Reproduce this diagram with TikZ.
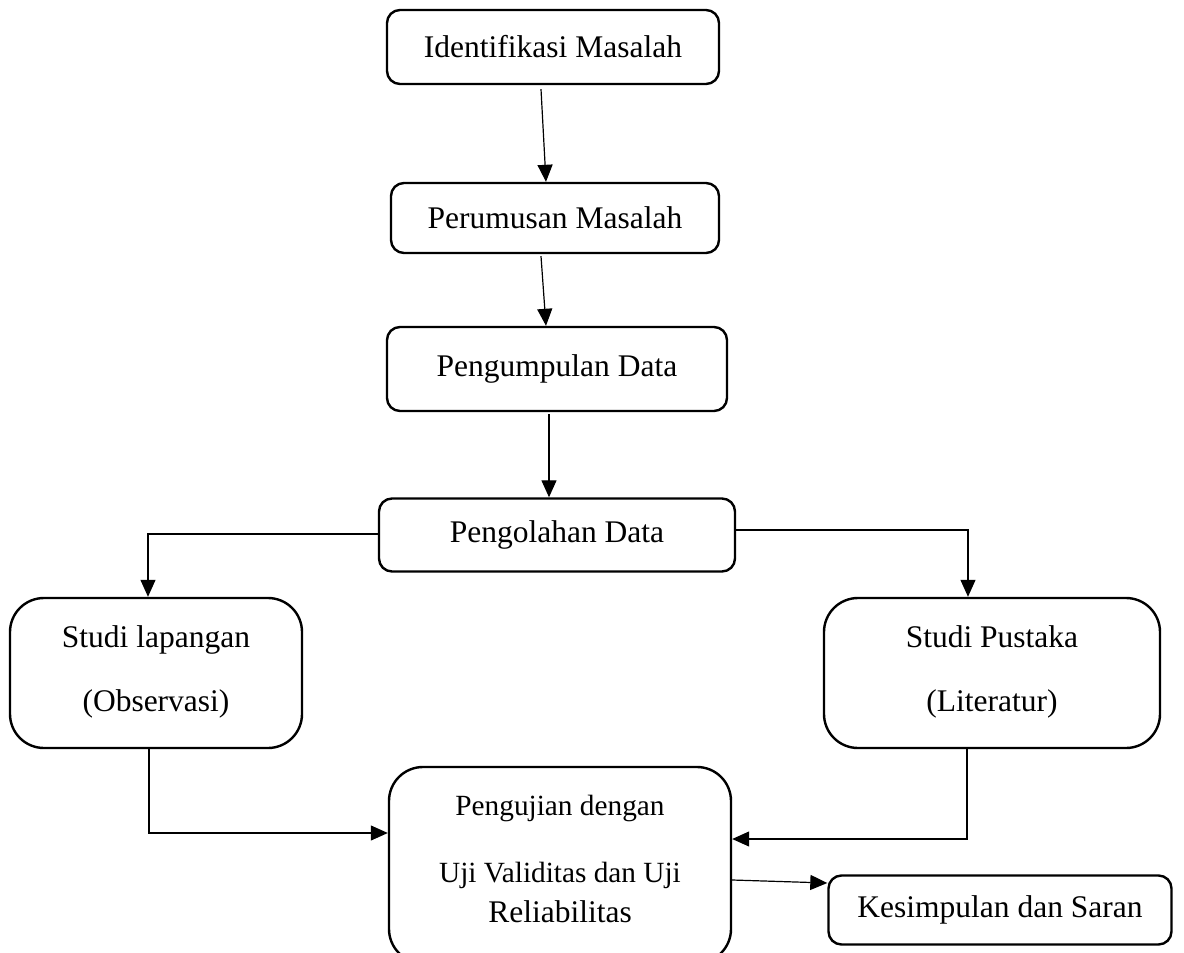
\documentclass[tikz,border=0pt]{standalone}
\usepackage{fontspec}
\setmainfont{Liberation Serif}
\usetikzlibrary{arrows.meta}

\begin{document}
\begin{tikzpicture}[x=1pt,y=-1pt,
  stepbox/.style={draw,line width=2.4pt,rounded corners=13pt,inner sep=0pt,
    font=\fontsize{31.5}{64}\selectfont,align=center},
  bigbox/.style={stepbox,rounded corners=34pt},
  label/.style={anchor=base,inner sep=0pt},
  flow/.style={line width=1.2pt,-{Triangle[length=17pt,width=15pt]}}]

  \useasboundingbox (0,0) rectangle (1184,953);

  % main column
  \node[stepbox,minimum width=332pt,minimum height=74pt] (ident) at (553,47) {\raisebox{-3pt}{Identifikasi Masalah}};
  \node[stepbox,minimum width=328pt,minimum height=70pt] (rumus) at (555,218) {Perumusan Masalah};
  \node[stepbox,minimum width=340pt,minimum height=84pt] (kumpul) at (557,369) {Pengumpulan Data};
  \node[stepbox,minimum width=356pt,minimum height=73pt] (olah) at (557,535) {Pengolahan Data};

  % studies
  \node[bigbox,minimum width=292pt,minimum height=150pt] (lapangan) at (156,673) {};
  \node[label,font=\fontsize{31.5}{38}\selectfont] at (156,647) {Studi lapangan};
  \node[label,font=\fontsize{31.5}{38}\selectfont] at (156,711) {(Observasi)};
  \node[bigbox,minimum width=336pt,minimum height=150pt] (pustaka) at (992,673) {};
  \node[label,font=\fontsize{31.5}{38}\selectfont] at (992,647) {Studi Pustaka};
  \node[label,font=\fontsize{31.5}{38}\selectfont] at (992,711) {(Literatur)};

  % testing and conclusion
  \node[bigbox,minimum width=342pt,minimum height=196pt] (uji) at (560,865) {};
  \node[label,font=\fontsize{29.3}{35}\selectfont] at (560,815) {Pengujian dengan};
  \node[label,font=\fontsize{29.3}{35}\selectfont] at (560,882) {Uji Validitas dan Uji};
  \node[label,font=\fontsize{31.5}{38}\selectfont] at (560,922) {Reliabilitas};
  \node[stepbox,minimum width=343pt,minimum height=69pt] (simpul) at (1000,910) {Kesimpulan dan Saran};

  % connectors
  \draw[flow] ([xshift=-12pt]ident.south) ++(0,4) -- ([xshift=-9pt]rumus.north);
  \draw[flow] ([xshift=-14pt]rumus.south) ++(0,2) -- ([xshift=-11pt]kumpul.north);
  \draw[flow] ([xshift=-8pt]kumpul.south) ++(0,2) -- ([xshift=-8pt]olah.north);
  \draw[flow] (olah.west |- 0,534) -| ([xshift=-8pt]lapangan.north);
  \draw[flow] (olah.east |- 0,530) -| ([xshift=-24pt]pustaka.north);
  \draw[flow] ([xshift=-7pt]lapangan.south) |- (uji.west |- 0,833);
  \draw[flow] ([xshift=-25pt]pustaka.south) |- (uji.east |- 0,839);
  \draw[flow] (uji.east |- 0,880) -- (simpul.west |- 0,883);
\end{tikzpicture}
\end{document}
